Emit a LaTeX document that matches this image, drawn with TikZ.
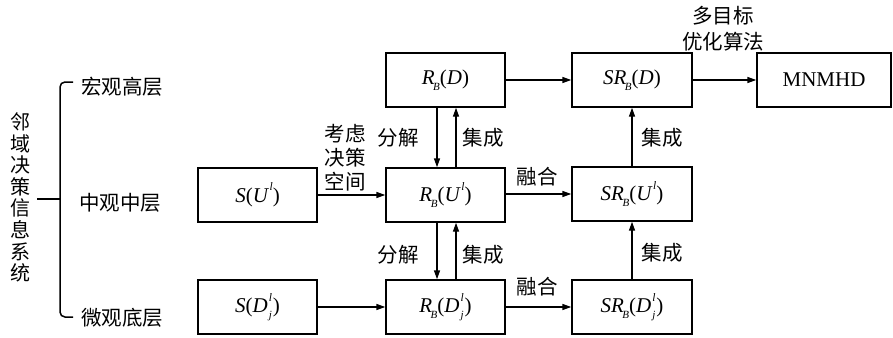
\documentclass[tikz,border=0pt]{standalone}
\usepackage{fontspec}
\setmainfont{Liberation Serif}
\newfontfamily\cjk{Noto Sans CJK SC}
\usetikzlibrary{arrows.meta}
\newcommand{\mysub}[1]{\raisebox{-0.28em}{\fontsize{11}{11}\selectfont\itshape #1}}
\newcommand{\mysup}[1]{\raisebox{0.55em}{\fontsize{11.5}{11.5}\selectfont\itshape #1}}
\newcommand{\RB}{\textit{R}\kern-1.5pt\mysub{B}}
\newcommand{\Dj}{\textit{D}\kern1pt\rlap{\mysup{l}}\mysub{j}\kern1pt}
\newcommand{\Ul}{\textit{U}\kern0.5pt\mysup{l}}
\begin{document}
\begin{tikzpicture}[x=1pt,y=-1pt,
  box/.style={draw,line width=1.4pt,minimum width=119pt,minimum height=54pt,inner sep=0pt,font=\fontsize{21}{24}\selectfont},
  lab/.style={font=\cjk\fontsize{20.5}{24}\selectfont,inner sep=0pt,align=center},
  arr/.style={line width=1.4pt,-{Triangle[length=9pt,width=6pt]}},
  ln/.style={line width=1.5pt}]
\useasboundingbox (0,0) rectangle (893,337);
% boxes
\node[box] (RD)  at (445.5,80)  {\RB(\textit{D})};
\node[box] (SU)  at (257.5,195) {\textit{S}(\Ul)};
\node[box] (RU)  at (445.5,195) {\RB(\Ul)};
\node[box] (SD)  at (257.5,307) {\textit{S}(\Dj)};
\node[box] (RDj) at (445.5,307) {\RB(\Dj)};
\node[box,minimum width=120pt] (SRD) at (632,80) {\textit{S}\RB(\textit{D})};
\node[box,minimum width=120pt] (SRU) at (632,194) {\textit{S}\RB(\Ul)};
\node[box,minimum width=120pt] (SRDj) at (632,307) {\textit{S}\RB(\Dj)};
\node[box,minimum width=134pt] (MN) at (824,80) {MNMHD};
% horizontal arrows
\draw[arr] (RD) -- (SRD);
\draw[arr] (SRD) -- (MN);
\draw[arr] (SU) -- (RU);
\draw[arr] (RU.east |- SRU) -- (SRU);
\draw[arr] (SD) -- (RDj);
\draw[arr] (RDj) -- (SRDj);
% vertical arrows
\draw[arr] ([xshift=-8.5pt]RD.south) -- ([xshift=-8.5pt]RU.north);
\draw[arr] ([xshift=10.5pt]RU.north) -- ([xshift=10.5pt]RD.south);
\draw[arr] ([xshift=-8.5pt]RU.south) -- ([xshift=-8.5pt]RDj.north);
\draw[arr] ([xshift=10.5pt]RDj.north) -- ([xshift=10.5pt]RU.south);
\draw[arr] (SRDj) -- (SRU);
\draw[arr] (SRU) -- (SRD);
% labels
\node[lab] (l1) at (398,138) {分解};
\node[lab] (l2) at (483,138) {集成};
\node[lab] (l3) at (398,255) {分解};
\node[lab] (l4) at (483,255) {集成};
\node[lab] (l5) at (662,138) {集成};
\node[lab] (l6) at (662,253) {集成};
\node[lab] (l7) at (537,177) {融合};
\node[lab] (l8) at (537,287) {融合};
\node[lab] (l9) at (345,158) {考虑\\决策\\空间};
\node[lab,font=\cjk\fontsize{20.5}{26}\selectfont] (l10) at (723,29) {多目标\\优化算法};
% left side
\node[lab,font=\cjk\fontsize{20}{21.6}\selectfont] (sys) at (20,197.5) {邻\\域\\决\\策\\信\\息\\系\\统};
\coordinate (bt) at (73,82);
\coordinate (bb) at (73,317);
\coordinate (bm) at (37,199);
\draw[ln,rounded corners=5pt] (bt) -- (60,82) -- (60,317) -- (bb);
\draw[ln] (bm) -- (60,199);
\node[lab] (top) at (122,87) {宏观高层};
\node[lab] (mid) at (120,203) {中观中层};
\node[lab] (bot) at (122,318) {微观底层};
\end{tikzpicture}
\end{document}
